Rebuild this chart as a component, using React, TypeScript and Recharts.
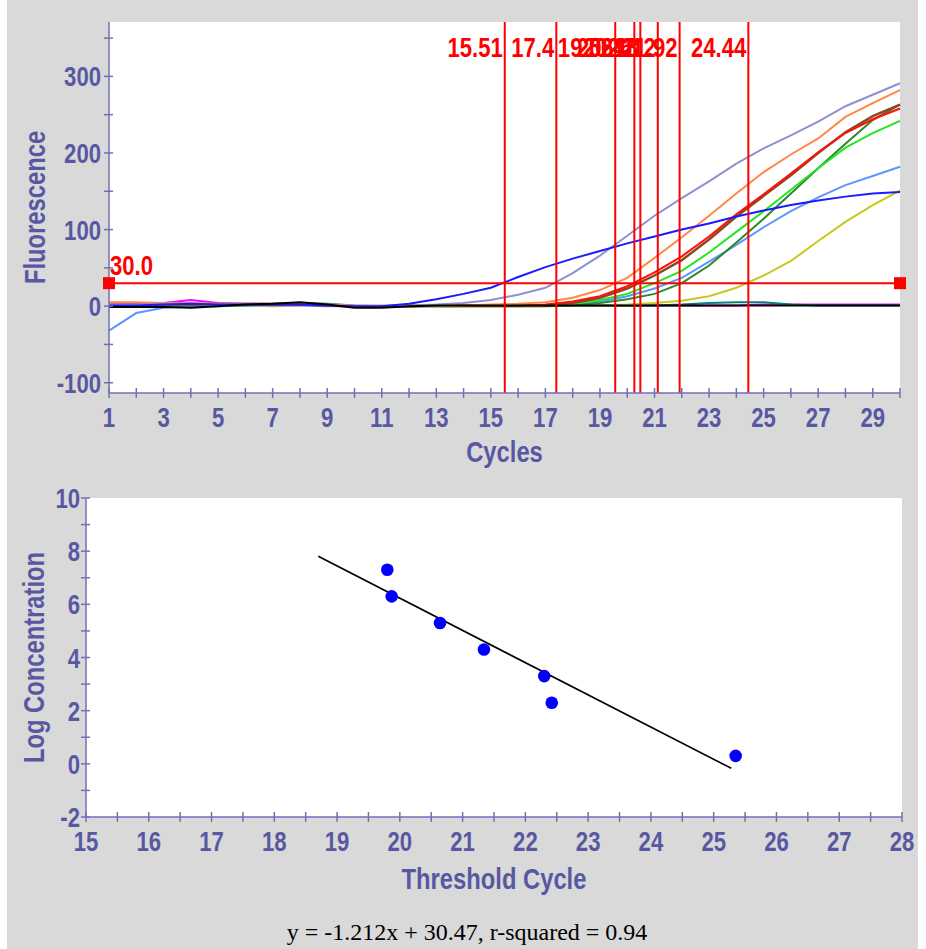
import React from 'react';
import {
  ComposedChart,
  Line,
  Scatter,
  XAxis,
  YAxis,
  ReferenceLine,
  ReferenceDot,
  CartesianGrid,
} from 'recharts';

// ---------- Amplification plot data ----------
const cycles = [1, 2, 3, 4, 5, 6, 7, 8, 9, 10, 11, 12, 13, 14, 15, 16, 17, 18, 19, 20, 21, 22, 23, 24, 25, 26, 27, 28, 29, 30];

const blueCurve = [1, 1, 2, 3, 2, 2, 2, 2, 1, 0, 0, 3, 9, 16, 24, 38, 51, 62, 72, 82, 91, 100, 108, 117, 125, 132, 138, 143, 147, 149];
const lavenderCurve = [2, 2, 3, 3, 2, 2, 3, 3, 1, 0, 0, 1, 2, 4, 8, 15, 24, 43, 66, 92, 118, 141, 163, 186, 206, 223, 241, 261, 276, 291];
const orangeCurve = [5, 5, 4, 4, 3, 3, 3, 3, 2, 1, 1, 1, 1, 1, 2, 3, 5, 11, 21, 37, 63, 90, 118, 147, 175, 198, 219, 247, 265, 282];
const redCurve = [2, 2, 2, 3, 2, 2, 2, 2, 1, 0, 0, 1, 1, 1, 1, 1, 2, 6, 13, 26, 44, 65, 91, 120, 146, 173, 201, 226, 244, 258];
const brownCurve = [1, 1, 2, 2, 2, 2, 2, 2, 1, 0, 0, 0, 1, 1, 1, 1, 1, 4, 11, 23, 40, 60, 87, 117, 144, 171, 200, 227, 248, 263];
const limeCurve = [1, 1, 1, 2, 2, 2, 2, 2, 1, 0, 0, 0, 0, 0, 1, 1, 1, 3, 8, 16, 30, 46, 70, 97, 124, 152, 180, 207, 226, 242];
const lightBlueCurve = [-32, -9, -2, 0, 0, 1, 1, 1, 0, 0, 0, 0, 0, 0, 0, 0, 1, 2, 6, 13, 23, 37, 58, 80, 103, 124, 142, 158, 170, 182];
const darkGreenCurve = [0, 0, 1, 1, 1, 1, 2, 2, 1, 0, 0, 0, 0, 0, 0, 0, 0, 1, 4, 9, 16, 30, 53, 83, 114, 147, 180, 212, 243, 263];
const oliveCurve = [0, 0, 0, 1, 1, 1, 0, 1, 1, 0, 0, 0, 0, 0, 0, 0, 0, 1, 1, 2, 4, 7, 13, 24, 40, 59, 85, 110, 132, 151];
const magentaCurve = [2, 3, 4, 8, 4, 3, 3, 3, 2, 0, 0, 1, 1, 1, 1, 1, 1, 1, 1, 1, 1, 1, 1, 1, 2, 2, 2, 2, 2, 2];
const tealCurve = [1, 1, 2, 3, 3, 3, 3, 4, 3, 1, 0, 1, 1, 1, 1, 1, 1, 1, 1, 1, 1, 2, 4, 5, 5, 2, 1, 1, 1, 1];
const blackCurve = [-1, -1, -1, -2, 0, 2, 3, 5, 2, -2, -2, 0, 1, 1, 1, 1, 1, 1, 1, 1, 1, 1, 1, 1, 1, 1, 1, 1, 1, 1];

const ctValues = [15.51, 17.4, 19.56, 20.26, 20.48, 21.12, 21.92, 24.44];
const ctLabels = ['15.51', '17.4', '19.56', '20.26', '20.48', '21.12', '21.92', '24.44'];
const threshold = 30;
const thresholdLabel = '30.0';

const fluorTicks = [-100, -50, 0, 50, 100, 150, 200, 250, 300, 350];
const fluorLabeled = [-100, 0, 100, 200, 300];
const cycleLabeled = [1, 3, 5, 7, 9, 11, 13, 15, 17, 19, 21, 23, 25, 27, 29];

// ---------- Standard curve data ----------
const stdCt = [19.8, 19.87, 20.64, 21.34, 22.3, 22.42, 25.35];
const stdLogConc = [7.3, 6.3, 5.3, 4.3, 3.3, 2.3, 0.3];
const fitSlope = -1.212;
const fitIntercept = 30.47;
const fitRange = [18.7, 25.28];
const equationText = 'y = -1.212x + 30.47, r-squared = 0.94';

const tcTicks = [15, 15.5, 16, 16.5, 17, 17.5, 18, 18.5, 19, 19.5, 20, 20.5, 21, 21.5, 22, 22.5, 23, 23.5, 24, 24.5, 25, 25.5, 26, 26.5, 27, 27.5, 28];
const tcLabeled = [15, 16, 17, 18, 19, 20, 21, 22, 23, 24, 25, 26, 27, 28];
const lcTicks = [-2, -1, 0, 1, 2, 3, 4, 5, 6, 7, 8, 9, 10];
const lcLabeled = [-2, 0, 2, 4, 6, 8, 10];

// ---------- Styles ----------
const FONT = "'Liberation Sans',Arial,sans-serif";
const SQUEEZE = 0.82;
const TEXT_COLOR = '#5858a2';
const AXIS_COLOR = '#7070b8';
const BG = '#d9d9d9';

const series = [
  { key: 'magenta', color: '#ff00ff', values: magentaCurve, width: 2 },
  { key: 'teal', color: '#0a8080', values: tealCurve, width: 2 },
  { key: 'olive', color: '#c8c81e', values: oliveCurve, width: 2 },
  { key: 'lightBlue', color: '#5c96ff', values: lightBlueCurve, width: 2 },
  { key: 'darkGreen', color: '#2a8a2a', values: darkGreenCurve, width: 2 },
  { key: 'lime', color: '#22e622', values: limeCurve, width: 2 },
  { key: 'brown', color: '#8b4a1e', values: brownCurve, width: 2.5 },
  { key: 'red', color: '#ff1010', values: redCurve, width: 2 },
  { key: 'orange', color: '#ff8844', values: orangeCurve, width: 2 },
  { key: 'lavender', color: '#9090d0', values: lavenderCurve, width: 2 },
  { key: 'blue', color: '#1a1aff', values: blueCurve, width: 2 },
  { key: 'black', color: '#000000', values: blackCurve, width: 2 },
];

const ampData = cycles.map((c, i) => {
  const row: Record<string, number> = { cycle: c };
  series.forEach((s) => {
    row[s.key] = s.values[i];
  });
  return row;
});

const stdData = stdCt.map((x, i) => ({ x, y: stdLogConc[i] }));
const fitData = fitRange.map((x) => ({ x, y: fitSlope * x + fitIntercept }));

// Narrow bold text (horizontally condensed sans)
const NarrowText = ({ x, y, anchor, size, color, rotate, children }: any) => (
  <text
    transform={`translate(${x} ${y})${rotate ? ` rotate(${rotate})` : ''} scale(${SQUEEZE} 1)`}
    x={0}
    y={0}
    textAnchor={anchor}
    fill={color}
    fontFamily={FONT}
    fontWeight="bold"
    fontSize={size}
  >
    {children}
  </text>
);

// ---------- Tick renderers ----------
const makeYTick = (labeled: number[], gap: number) => (props: any) => {
  const { x, y, payload } = props;
  const v = payload.value;
  return (
    <g>
      <line x1={x - 5} x2={x + 4} y1={y} y2={y} stroke={AXIS_COLOR} strokeWidth={1.5} />
      {labeled.includes(v) && (
        <NarrowText x={x - gap} y={y + 10} anchor="end" size={27} color={TEXT_COLOR}>
          {v}
        </NarrowText>
      )}
    </g>
  );
};

const makeXTick = (labeled: number[]) => (props: any) => {
  const { x, y, payload } = props;
  const v = payload.value;
  return (
    <g>
      <line x1={x} x2={x} y1={y - 5} y2={y + 5} stroke={AXIS_COLOR} strokeWidth={1.5} />
      {labeled.includes(v) && (
        <NarrowText x={x} y={y + 34} anchor="middle" size={27} color={TEXT_COLOR}>
          {v}
        </NarrowText>
      )}
    </g>
  );
};

const xTitle = (text: string, baselineFromBottom: number) => (props: any) => {
  const vb = props.viewBox || {};
  return (
    <NarrowText x={vb.x + vb.width / 2} y={vb.y + vb.height - baselineFromBottom} anchor="middle" size={29} color={TEXT_COLOR}>
      {text}
    </NarrowText>
  );
};

const yTitle = (text: string, centerX: number) => (props: any) => {
  const vb = props.viewBox || {};
  return (
    <g transform={`translate(${centerX} ${vb.y + vb.height / 2}) rotate(-90)`}>
      <NarrowText x={0} y={10} anchor="middle" size={29} color={TEXT_COLOR}>
        {text}
      </NarrowText>
    </g>
  );
};

const CtLabel = (text: string) => (props: any) => {
  const vb = props.viewBox || {};
  return (
    <NarrowText x={vb.x - 2} y={(vb.y || 0) + 35} anchor="end" size={27} color="#ff0000">
      {text}
    </NarrowText>
  );
};

const LeftSquare = (props: any) => {
  const { cx, cy } = props;
  return (
    <g>
      <rect x={cx - 6} y={cy - 6} width={12} height={12} fill="#ff0000" />
      <NarrowText x={cx + 1} y={cy - 8} anchor="start" size={27} color="#ff0000">
        {thresholdLabel}
      </NarrowText>
    </g>
  );
};

const RightSquare = (props: any) => {
  const { cx, cy } = props;
  return <rect x={cx - 6} y={cy - 6} width={12} height={12} fill="#ff0000" />;
};

const BlueDot = (props: any) => {
  const { cx, cy } = props;
  return <circle cx={cx} cy={cy} r={6.3} fill="#0000ff" />;
};

export default function App() {
  return (
    <div style={{ position: 'absolute', left: 0, top: 0, width: 926, height: 949, background: '#ffffff', overflow: 'hidden' }}>
      <div style={{ position: 'absolute', left: 7, top: 0, width: 911, height: 949, background: BG }} />

      <div style={{ position: 'absolute', left: 0, top: 0 }}>
        <ComposedChart width={926} height={470} data={ampData} margin={{ top: 22, right: 26, left: 20, bottom: 5 }}>
          <CartesianGrid horizontal={false} vertical={false} fill="#ffffff" stroke="none" />
          <XAxis
            dataKey="cycle"
            type="number"
            domain={[1, 30]}
            ticks={cycles}
            interval={0}
            height={72}
            tickSize={0}
            tickMargin={0}
            tickLine={false}
            axisLine={{ stroke: AXIS_COLOR, strokeWidth: 1.5 }}
            tick={makeXTick(cycleLabeled)}
            label={xTitle('Cycles', 3)}
          />
          <YAxis
            type="number"
            domain={[-113.4, 371]}
            ticks={fluorTicks}
            interval={0}
            width={89}
            tickSize={0}
            tickMargin={0}
            tickLine={false}
            axisLine={{ stroke: AXIS_COLOR, strokeWidth: 1.5 }}
            tick={makeYTick(fluorLabeled, 8)}
            allowDataOverflow
            label={yTitle('Fluorescence', 35)}
          />
          {series.map((s) => (
            <Line
              key={s.key}
              dataKey={s.key}
              type="linear"
              stroke={s.color}
              strokeWidth={s.width}
              dot={false}
              activeDot={false}
              isAnimationActive={false}
            />
          ))}
          <ReferenceLine y={threshold} stroke="#ff0000" strokeWidth={2} />
          {ctValues.map((ct, i) => (
            <ReferenceLine key={'ct' + i} x={ct} stroke="#ff0000" strokeWidth={2} label={CtLabel(ctLabels[i])} />
          ))}
          <ReferenceDot x={1} y={threshold} r={6} ifOverflow="visible" shape={LeftSquare} />
          <ReferenceDot x={30} y={threshold} r={6} ifOverflow="visible" shape={RightSquare} />
        </ComposedChart>
      </div>

      <div style={{ position: 'absolute', left: 0, top: 470 }}>
        <ComposedChart width={926} height={479} margin={{ top: 28, right: 24, left: 20, bottom: 60 }}>
          <CartesianGrid horizontal={false} vertical={false} fill="#ffffff" stroke="none" />
          <XAxis
            dataKey="x"
            type="number"
            domain={[15, 28]}
            ticks={tcTicks}
            interval={0}
            height={72}
            tickSize={0}
            tickMargin={0}
            tickLine={false}
            axisLine={{ stroke: AXIS_COLOR, strokeWidth: 1.5 }}
            tick={makeXTick(tcLabeled)}
            label={xTitle('Threshold Cycle', 0)}
          />
          <YAxis
            dataKey="y"
            type="number"
            domain={[-2, 10]}
            ticks={lcTicks}
            interval={0}
            width={66}
            tickSize={0}
            tickMargin={0}
            tickLine={false}
            axisLine={{ stroke: AXIS_COLOR, strokeWidth: 1.5 }}
            tick={makeYTick(lcLabeled, 6)}
            label={yTitle('Log Concentration', 34)}
          />
          <Line data={fitData} dataKey="y" type="linear" stroke="#000000" strokeWidth={1.6} dot={false} activeDot={false} isAnimationActive={false} />
          <Scatter data={stdData} dataKey="y" fill="#0000ff" shape={BlueDot} isAnimationActive={false} />
        </ComposedChart>
      </div>

      <div
        style={{
          position: 'absolute',
          left: 0,
          top: 920,
          width: 934,
          textAlign: 'center',
          fontFamily: "'Liberation Serif','Times New Roman',serif",
          fontSize: 24,
          lineHeight: '24px',
          color: '#000000',
        }}
      >
        {equationText}
      </div>
    </div>
  );
}
